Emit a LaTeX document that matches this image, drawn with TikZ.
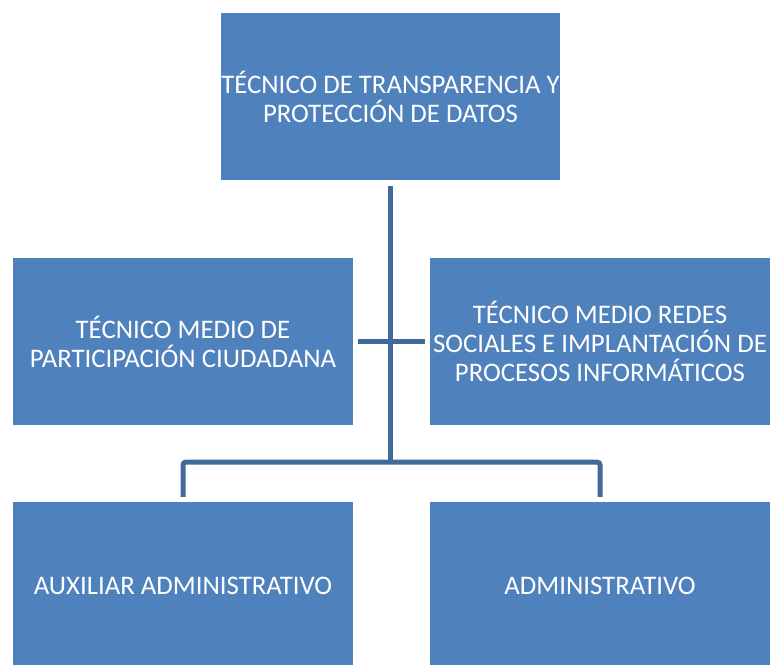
\documentclass[tikz,border=0pt]{standalone}
\usepackage{fontspec}
\setmainfont{Carlito}
\definecolor{caja}{HTML}{4F81BD}
\definecolor{linea}{HTML}{41699C}
\tikzstyle{puesto} = [rectangle, fill=caja, text=white, minimum width=340, minimum height=167, align=center, inner sep=0pt, font=\fontsize{26.8}{29}\selectfont]
\tikzstyle{trait} = [-, draw=linea, line width=5, rounded corners=3pt]

\begin{document}
\begin{tikzpicture}[x=1pt, y=-1pt]

	\clip (0,0) rectangle (770,664);

	\node[puesto, minimum width=339] (Jefe) at (390.5,96.5) {TÉCNICO DE TRANSPARENCIA Y\\PROTECCIÓN DE DATOS};

	\node[puesto] (Part) at (183,341.5) {TÉCNICO MEDIO DE\\PARTICIPACIÓN CIUDADANA};
	\node[puesto] (Redes) at (600,341.5) {TÉCNICO MEDIO REDES\\SOCIALES E IMPLANTACIÓN DE\\PROCESOS INFORMÁTICOS};

	\node[puesto] (Aux) at (183,585.5) {AUXILIAR ADMINISTRATIVO};
	\node[puesto] (Adm) at (600,585.5) {ADMINISTRATIVO};

	\coordinate (Bif) at (390.5,462);

	%% Lignes
	\draw[trait, shorten <=6] (Jefe.south) -- (Bif);
	\draw[trait, shorten <=5, shorten >=5] (Part.east) -- (Redes.west);
	\draw[trait, shorten <=5, shorten >=5] (Aux.north) |- (Bif) -| (Adm.north);

\end{tikzpicture}
\end{document}
